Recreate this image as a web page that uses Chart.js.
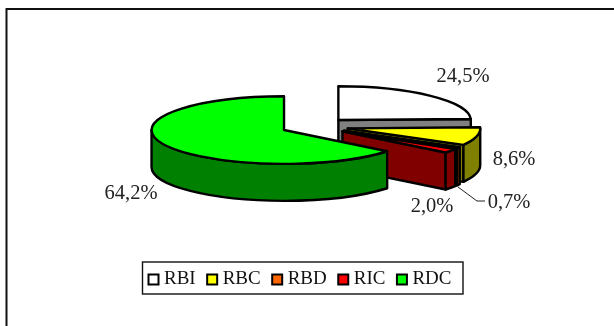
<!DOCTYPE html>
<html>
<head>
<meta charset="utf-8">
<style>
  body { margin: 0; background: #fff; }
  canvas { display: block; }
</style>
<script src="https://cdn.jsdelivr.net/npm/chart.js@4/dist/chart.umd.min.js"></script>
</head>
<body>
<canvas id="pie-plot" width="614" height="326"></canvas>
<script>
const categories = ['RBI', 'RBC', 'RBD', 'RIC', 'RDC'];
const shares = [24.5, 8.6, 0.7, 2.0, 64.2];
const topColors = ['#FFFFFF', '#FFFF00', '#FF6600', '#FF0000', '#00FF00'];
const wallColors = ['#808080', '#808000', '#803300', '#800000', '#008000'];

// where the percent labels sit, [x, y] of the text centre
const labelSpots = [[463, 76.5], [514, 159.5], [509, 202.5], [432, 206.5], [131, 193.5]];

const FONT = '"Liberation Serif", serif';
const TILT = 0.255;     // vertical squash of the pie
const DEPTH = 37;       // height of the pie walls
const RADIUS = 132.5;
const EXPLODE = 34;
const CENTER_X = 314.7;
const CENTER_Y = 126.3;

// arc drawn as a tilted solid slice, walls first and then the top face
class SolidArc extends Chart.ArcElement {
  draw(ctx) {
    const index = this.$context.dataIndex;
    const mid = (this.startAngle + this.endAngle) / 2;
    const r = this.outerRadius;
    const cx = CENTER_X + Math.cos(mid) * this.options.offset;
    const cy = CENTER_Y + Math.sin(mid) * this.options.offset * TILT;
    const start = this.startAngle;
    const end = this.endAngle;

    ctx.save();
    ctx.lineWidth = 2.4;
    ctx.lineJoin = 'round';
    ctx.strokeStyle = this.options.borderColor;

    // cut face on the clockwise end of the slice, only if it looks at the viewer
    if (Math.cos(end) > 0.001) {
      const ex = cx + Math.cos(end) * r;
      const ey = cy + Math.sin(end) * r * TILT;
      ctx.beginPath();
      ctx.moveTo(cx, cy);
      ctx.lineTo(ex, ey);
      ctx.lineTo(ex, ey + DEPTH);
      ctx.lineTo(cx, cy + DEPTH);
      ctx.closePath();
      ctx.fillStyle = wallColors[index];
      ctx.fill();
      ctx.stroke();
    }

    // outer wall, the part of the rim on the front half
    const wrap = Math.PI * 2;
    [[0, Math.PI], [wrap, wrap + Math.PI]].forEach(([lo, hi]) => {
      const a = Math.max(start, lo);
      const b = Math.min(end, hi);
      if (b <= a) return;
      ctx.beginPath();
      ctx.ellipse(cx, cy, r, r * TILT, 0, a, b);
      ctx.ellipse(cx, cy + DEPTH, r, r * TILT, 0, b, a, true);
      ctx.closePath();
      ctx.fillStyle = wallColors[index];
      ctx.fill();
      ctx.stroke();
    });

    // top face
    ctx.beginPath();
    ctx.moveTo(cx, cy);
    ctx.ellipse(cx, cy, r, r * TILT, 0, start, end);
    ctx.closePath();
    ctx.fillStyle = this.options.backgroundColor;
    ctx.fill();
    ctx.stroke();
    ctx.restore();
  }
}
SolidArc.id = 'solidArc';
SolidArc.defaults = Chart.ArcElement.defaults;
SolidArc.defaultRoutes = Chart.ArcElement.defaultRoutes;

class SolidPieController extends Chart.PieController {}
SolidPieController.id = 'solidPie';
SolidPieController.defaults = { dataElementType: 'solidArc' };

Chart.register(SolidArc, SolidPieController);

// the two frame edges of the chart and the box round the legend
const framePlugin = {
  id: 'framePlugin',
  beforeDraw(chart) {
    const ctx = chart.ctx;
    ctx.save();
    ctx.strokeStyle = '#111';
    ctx.lineWidth = 2;
    ctx.beginPath();
    ctx.moveTo(614, 9);
    ctx.lineTo(6.5, 9);
    ctx.lineTo(6.5, 326);
    ctx.stroke();
    ctx.restore();
  },
  afterDraw(chart) {
    const ctx = chart.ctx;
    ctx.save();
    ctx.strokeStyle = '#111';
    ctx.lineWidth = 1.4;
    ctx.strokeRect(142.5, 262, 320.5, 32);
    ctx.restore();
  }
};

// percent labels plus the leader line of the thin slice
const labelPlugin = {
  id: 'labelPlugin',
  afterDatasetsDraw(chart) {
    const ctx = chart.ctx;
    ctx.save();
    ctx.strokeStyle = '#222';
    ctx.lineWidth = 1;
    ctx.beginPath();
    ctx.moveTo(458, 187);
    ctx.lineTo(477, 201);
    ctx.lineTo(485, 201);
    ctx.stroke();
    ctx.fillStyle = '#222';
    ctx.font = '20.5px ' + FONT;
    ctx.textAlign = 'center';
    ctx.textBaseline = 'middle';
    shares.forEach((value, i) => {
      const text = value.toFixed(1).replace('.', ',') + '%';
      ctx.fillText(text, labelSpots[i][0], labelSpots[i][1]);
    });
    ctx.restore();
  }
};

new Chart('pie-plot', {
  type: 'solidPie',
  data: {
    labels: categories,
    datasets: [{
      data: shares,
      backgroundColor: topColors,
      borderColor: '#000',
      borderWidth: 2,
      offset: EXPLODE,
      hoverOffset: 0,
      radius: RADIUS
    }]
  },
  options: {
    responsive: false,
    animation: false,
    layout: { padding: { bottom: 27, left: 0, right: 10 } },
    plugins: {
      tooltip: { enabled: false },
      legend: {
        display: true,
        position: 'bottom',
        onClick: null,
        labels: {
          font: { family: FONT, size: 19 },
          color: '#111',
          usePointStyle: true,
          pointStyle: 'rect',
          boxWidth: 2,
          boxHeight: 10,
          padding: 15.5
        }
      }
    }
  },
  plugins: [framePlugin, labelPlugin]
});
</script>
</body>
</html>
